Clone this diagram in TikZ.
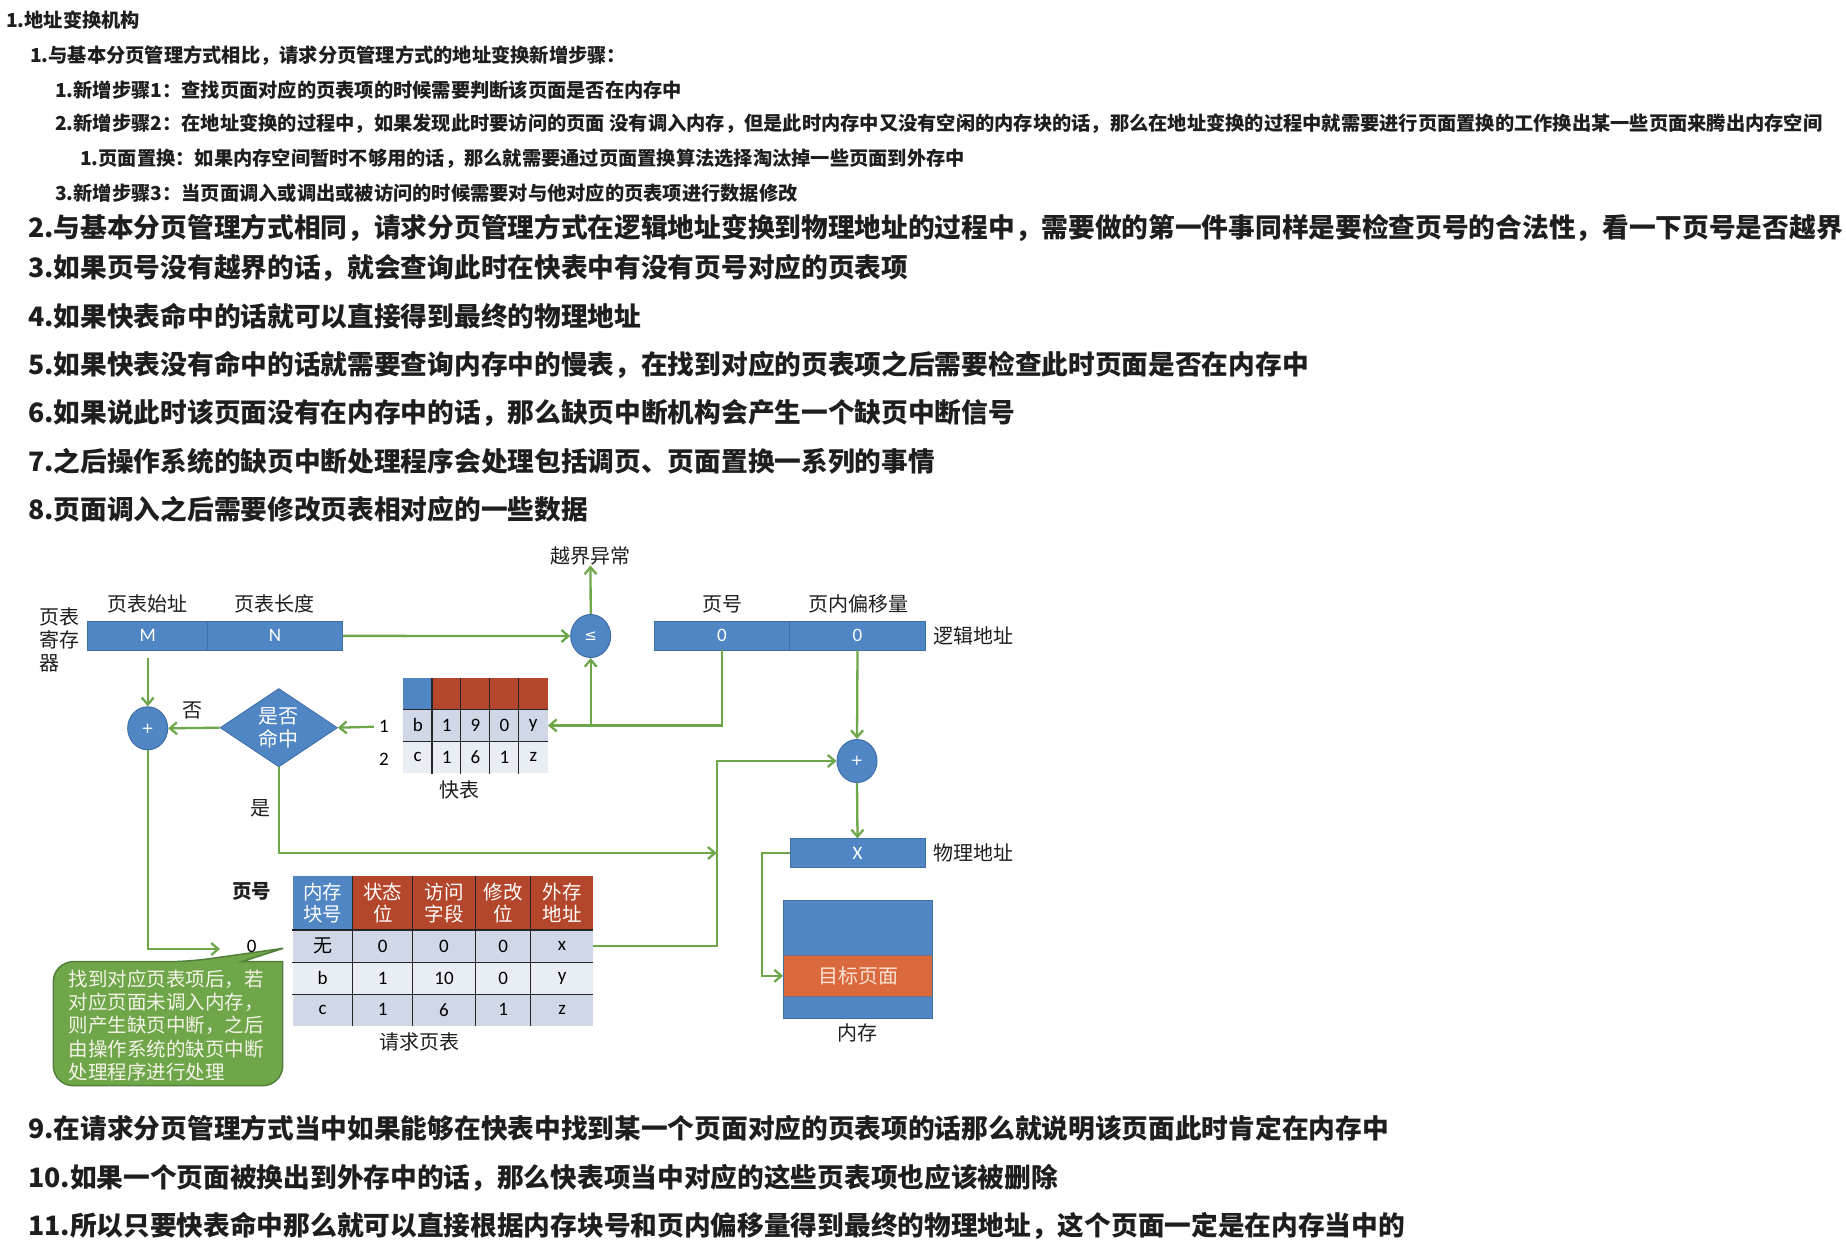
\documentclass[tikz,border=0pt]{standalone}
\usepackage{fontspec}
\setmainfont{Carlito}
\newfontfamily\cjk{Noto Sans CJK SC}
\newfontfamily\symf{DejaVu Sans}
\usetikzlibrary{arrows.meta,shapes.geometric}

\definecolor{ink}{HTML}{1E1E1E}
\definecolor{barblue}{HTML}{5086C4}
\definecolor{barline}{HTML}{3F6FA8}
\definecolor{hdrred}{HTML}{B4472B}
\definecolor{cellA}{HTML}{D0D8E8}
\definecolor{cellB}{HTML}{E9EDF4}
\definecolor{lnk}{HTML}{6EA64A}
\definecolor{callg}{HTML}{6FA649}
\definecolor{callb}{HTML}{52803A}
\definecolor{calltext}{HTML}{F4F4E8}
\definecolor{tgt}{HTML}{DA6A3E}
\definecolor{tgttext}{HTML}{F8E2D4}

\begin{document}
\begin{tikzpicture}[x=1pt,y=-1pt,
  small/.style={anchor=west,inner sep=0pt,text=ink,font=\cjk\bfseries\fontsize{19.25}{23}\selectfont},
  big/.style={anchor=west,inner sep=0pt,text=ink,font=\cjk\bfseries\fontsize{26.7}{32}\selectfont},
  lab/.style={inner sep=0pt,text=ink,font=\cjk\fontsize{20}{23}\selectfont},
  bar/.style={draw=barline,line width=0.8pt,fill=barblue,minimum height=28.4pt,inner sep=0pt,text=white,font=\fontsize{19}{22}\selectfont},
  op/.style={ellipse,draw=barline,line width=1pt,fill=barblue,minimum width=40pt,minimum height=43pt,inner sep=0pt,text=white,font=\symf\fontsize{15}{17}\selectfont},
  link/.style={draw=lnk,line width=2.3pt,-{Straight Barb[length=7pt,width=12pt]}},
  cell/.style={inner sep=0pt,text=black,font=\fontsize{19}{22}\selectfont},
  hcell/.style={inner sep=0pt,text=white,align=center,font=\cjk\fontsize{19.5}{21.7}\selectfont},
  grid/.style={draw=black!85,line width=1.2pt},
]
\useasboundingbox (0,0) rectangle (1846,1255);
\fill[white] (0,0) rectangle (1846,1255);

% ---------- notes above the figure ----------
\node[small] (h1)    at (6,20.5)  {1.地址变换机构};
\node[small] (h11)   at (30,56)   {1.与基本分页管理方式相比，请求分页管理方式的地址变换新增步骤：};
\node[small] (h111)  at (55,90)   {1.新增步骤1：查找页面对应的页表项的时候需要判断该页面是否在内存中};
\node[small] (h112)  at (55,123.5){2.新增步骤2：在地址变换的过程中，如果发现此时要访问的页面 没有调入内存，但是此时内存中又没有空闲的内存块的话，那么在地址变换的过程中就需要进行页面置换的工作换出某一些页面来腾出内存空间};
\node[small] (h1121) at (80,159)  {1.页面置换：如果内存空间暂时不够用的话，那么就需要通过页面置换算法选择淘汰掉一些页面到外存中};
\node[small] (h113)  at (55,193)  {3.新增步骤3：当页面调入或调出或被访问的时候需要对与他对应的页表项进行数据修改};
\node[big] (h2) at (28,228) {2.与基本分页管理方式相同，请求分页管理方式在逻辑地址变换到物理地址的过程中，需要做的第一件事同样是要检查页号的合法性，看一下页号是否越界};
\node[big] (h3) at (28,267.5) {3.如果页号没有越界的话，就会查询此时在快表中有没有页号对应的页表项};
\node[big] (h4) at (28,316) {4.如果快表命中的话就可以直接得到最终的物理地址};
\node[big] (h5) at (28,365) {5.如果快表没有命中的话就需要查询内存中的慢表，在找到对应的页表项之后需要检查此时页面是否在内存中};
\node[big] (h6) at (28,413) {6.如果说此时该页面没有在内存中的话，那么缺页中断机构会产生一个缺页中断信号};
\node[big] (h7) at (28,461) {7.之后操作系统的缺页中断处理程序会处理包括调页、页面置换一系列的事情};
\node[big] (h8) at (28,509.5) {8.页面调入之后需要修改页表相对应的一些数据};

% ---------- notes below the figure ----------
\node[big] (h9)  at (28,1128) {9.在请求分页管理方式当中如果能够在快表中找到某一个页面对应的页表项的话那么就说明该页面此时肯定在内存中};
\node[big] (h10) at (28,1177.5) {10.如果一个页面被换出到外存中的话，那么快表项当中对应的这些页表项也应该被删除};
\node[big] (h11b) at (28,1225.5) {11.所以只要快表命中那么就可以直接根据内存块号和页内偏移量得到最终的物理地址，这个页面一定是在内存当中的};

% ---------- registers and addresses ----------
\node[lab,anchor=west,align=left] (regname) at (39.5,640) {页表\\寄存\\器};
\node[lab] (lstart) at (147,604) {页表始址};
\node[lab] (llen)   at (274,604) {页表长度};
\node[bar,minimum width=119.8pt] (M) at (147.7,635.85) {M};
\node[bar,minimum width=134.8pt] (N) at (275,635.85) {N};

\node[lab] (lpg)  at (722,604) {页号};
\node[lab] (loff) at (858,604) {页内偏移量};
\node[bar,minimum width=135.1pt] (pg)  at (722,635.85) {0};
\node[bar,minimum width=136pt]   (off) at (857.5,635.85) {0};
\node[lab,anchor=west] (llog) at (933.5,636) {逻辑地址};

\node[bar,minimum width=135pt] (X) at (857.5,853) {X};
\node[lab,anchor=west] (lphy) at (933.3,853) {物理地址};

\node[lab] (exc) at (590.5,556) {越界异常};

% ---------- operators ----------
\node[op] (le)    at (590.7,636) {≤};
\node[op] (plusR) at (857,761)   {+};
\node[op] (plusL) at (147.7,728.3) {+};

\node[diamond,shape aspect=1.5,fill=barblue,draw=barline,line width=0.8pt,
      minimum width=117.4pt,minimum height=78.4pt,inner sep=0pt,text=white,
      align=center,font=\cjk\fontsize{20}{22.3}\selectfont] (dia) at (278.8,727.7) {是否\\命中};
\node[lab] (no)  at (192.2,710)   {否};
\node[lab] (yes) at (260.2,808.3) {是};

% ---------- TLB ----------
\node[fill=barblue,minimum width=28.9pt,minimum height=31pt,inner sep=0pt] (qh0) at (417.75,693.8) {};
\foreach \i in {1,...,4}
  \node[fill=hdrred,minimum width=28.9pt,minimum height=31pt,inner sep=0pt] (qh\i) at ({417.75+28.88*\i},693.8) {};
\foreach \t [count=\i from 0] in {b,1,9,0,y}
  \node[cell,fill=cellA,minimum width=28.9pt,minimum height=32.2pt] (qa\i) at ({417.75+28.88*\i},725.4) {\t};
\foreach \t [count=\i from 0] in {c,1,6,1,z}
  \node[cell,fill=cellB,minimum width=28.9pt,minimum height=31.8pt] (qb\i) at ({417.75+28.88*\i},757.4) {\t};
\foreach \i in {1,...,4}
  \draw[grid] (qh\i.north west) -- (qb\i.south west);
\draw[grid] (qh0.south west) -- (qh4.south east);
\draw[grid] (qa0.south west) -- (qa4.south east);
\node[cell] (r1) at (384,726.7) {1};
\node[cell] (r2) at (384,759.3) {2};
\node[lab] (ltlb) at (459.3,790) {快表};

% ---------- page table ----------
\foreach \cx/\w/\t/\c [count=\i from 0] in
  {322.65/60.1/内存\\块号/barblue, 382.75/60.1/状态\\位/hdrred, 444.05/62.5/访问\\字段/hdrred,
   503.15/55.7/修改\\位/hdrred, 562.05/62.1/外存\\地址/hdrred}
  \node[hcell,fill=\c,minimum width=\w pt,minimum height=54pt] (ph\i) at (\cx,903) {\t};
\foreach \cx/\w/\t [count=\i from 0] in
  {322.65/60.1/{\cjk 无}, 382.75/60.1/0, 444.05/62.5/0, 503.15/55.7/0, 562.05/62.1/x}
  \node[cell,fill=cellA,minimum width=\w pt,minimum height=32.3pt] (pa\i) at (\cx,946.15) {\t};
\foreach \cx/\w/\t [count=\i from 0] in
  {322.65/60.1/b, 382.75/60.1/1, 444.05/62.5/10, 503.15/55.7/0, 562.05/62.1/y}
  \node[cell,fill=cellB,minimum width=\w pt,minimum height=31.7pt] (pb\i) at (\cx,978.15) {\t};
\foreach \cx/\w/\t [count=\i from 0] in
  {322.65/60.1/c, 382.75/60.1/1, 444.05/62.5/6, 503.15/55.7/1, 562.05/62.1/z}
  \node[cell,fill=cellA,minimum width=\w pt,minimum height=31.7pt] (pc\i) at (\cx,1009.85) {\t};
\foreach \i in {1,...,4}
  \draw[grid] (ph\i.north west) -- (pc\i.south west);
\draw[grid,line width=2pt] (ph0.south west) -- (ph4.south east);
\draw[grid] (pa0.south west) -- (pa4.south east);
\draw[grid] (pb0.south west) -- (pb4.south east);
\node[lab,font=\cjk\bfseries\fontsize{19.5}{22}\selectfont] (lpgno) at (251.9,891.7) {页号};
\node[cell] (p0) at (251.7,946.7) {0};
\node[lab] (lpt) at (419,1041.7) {请求页表};

% ---------- memory ----------
\node[fill=barblue,minimum width=149.4pt,minimum height=54.7pt,inner sep=0pt] (mtop) at (858,928.35) {};
\node[fill=tgt,minimum width=149.4pt,minimum height=40.3pt,inner sep=0pt,text=tgttext,
      font=\cjk\fontsize{20}{23}\selectfont] (tgt) at (858,975.85) {目标页面};
\node[fill=barblue,minimum width=149.4pt,minimum height=22.7pt,inner sep=0pt] (mbot) at (858,1007.35) {};
\draw[barline,line width=1pt] (mtop.north west) rectangle (mbot.south east);
\draw[black!55,line width=1pt] (tgt.north west) -- (tgt.north east) (tgt.south west) -- (tgt.south east);
\node[lab] (lmem) at (857.7,1033.3) {内存};

% ---------- callout ----------
\path[fill=callg,draw=callb,line width=1.5pt]
  (53.3,1020) [rounded corners=20pt] -- (53.3,961.7) -- (188.3,961.7)
  [sharp corners] -- (283.3,948.3) -- (241.7,961.7) -- (282.7,961.7)
  [rounded corners=20pt] -- (282.7,1085.7) -- (53.3,1085.7) -- cycle;
\node[anchor=west,align=left,inner sep=0pt,text=calltext,font=\cjk\fontsize{19.5}{23.2}\selectfont]
  (note) at (68.3,1025.5) {找到对应页表项后，若\\对应页面未调入内存，\\则产生缺页中断，之后\\由操作系统的缺页中断\\处理程序进行处理};

% ---------- connectors ----------
\coordinate (br)   at (le.south |- qa4.east);
\coordinate (colx) at (716.7,853);
\coordinate (p0in) at (220,949);
\coordinate (mx)   at (762.3,853);

\draw[link] (N.east) -- (le.west);
\draw[link] (le.north) -- (exc.south);
\draw[link] (pg.south) |- (qa4.east);
\draw[link] (br) -- (le.south);
\draw[link] (off.south) -- (plusR.north);
\draw[link] (plusR.south) -- (X.north);
\draw[link] (pa4.east) -| (colx) |- (plusR.west);
\draw[link] (dia.south) |- (colx);
\draw[link] (dia.west) -- (plusL.east);
\draw[link] (r1.west) ++(-5,0) -- (dia.east);
\draw[link,shorten <=8pt] (M.south) -- (plusL.north);
\draw[link] (plusL.south) |- (p0in);
\draw[link] (X.west) -- (mx) |- (tgt.west);
\end{tikzpicture}
\end{document}
